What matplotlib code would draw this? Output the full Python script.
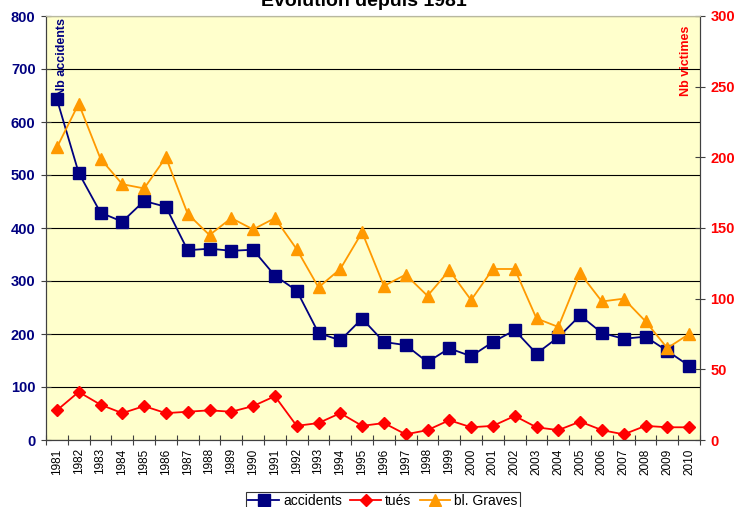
import matplotlib
matplotlib.use('Agg')
import matplotlib.pyplot as plt

plt.rcParams['font.family'] = ['Liberation Sans', 'DejaVu Sans']

annees = [str(a) for a in range(1981, 2011)]
accidents = [643, 504, 429, 412, 451, 440, 358, 361, 357, 359,
             310, 282, 202, 188, 229, 185, 179, 147, 173, 158,
             185, 207, 163, 194, 235, 202, 191, 195, 168, 140]
tues = [21, 34, 25, 19, 24, 19, 20, 21, 20, 24,
        31, 10, 12, 19, 10, 12, 4, 7, 14, 9,
        10, 17, 9, 7, 13, 7, 4, 10, 9, 9]
graves = [207, 238, 199, 181, 178, 200, 160, 145, 157, 149,
          157, 135, 108, 121, 147, 109, 117, 102, 120, 99,
          121, 121, 86, 80, 118, 98, 100, 84, 65, 75]

navy = '#000080'
rouge = '#FF0000'
orange = '#FF9900'

fig = plt.figure(figsize=(7.36, 5.07), dpi=100)
ax = fig.add_axes([46/736, 1-440/507, (700-46)/736, (440-16)/507])
ax.set_facecolor('#FFFFCC')
x = list(range(len(annees)))

l1, = ax.plot(x, accidents, color=navy, marker='s', markersize=8, lw=1.3,
              label='accidents', zorder=3)
ax.set_ylim(0, 800)
ax.set_xlim(-0.5, len(annees)-0.5)
ax.set_yticks(range(0, 801, 100))
ax.yaxis.grid(True, color='black', lw=0.8)
ax.set_axisbelow(True)
ax.set_xticks([i - 0.5 for i in range(len(annees)+1)], minor=False)
ax.set_xticklabels([])
ax.set_xticks(x, minor=True)
ax.set_xticklabels(annees, minor=True, rotation=90, fontsize=8.5)
ax.tick_params(axis='x', which='major', direction='inout', length=7, color='#404040')
ax.tick_params(axis='x', which='minor', length=0, pad=6)
ax.tick_params(axis='y', direction='inout', length=7, color='#404040',
               labelcolor=navy, labelsize=10.5, pad=4)
for t in ax.get_yticklabels():
    t.set_fontweight('bold')

ax2 = ax.twinx()
ax2.patch.set_visible(False)
l2, = ax2.plot(x, tues, color=rouge, marker='D', markersize=6, lw=1.3, label='tués')
l3, = ax2.plot(x, graves, color=orange, marker='^', markersize=8, lw=1.3,
               label='bl. Graves')
ax2.set_ylim(0, 300)
ax2.set_yticks(range(0, 301, 50))
ax2.tick_params(axis='y', direction='inout', length=7, color='#404040',
                labelcolor=rouge, labelsize=10.5, pad=4)
for t in ax2.get_yticklabels():
    t.set_fontweight('bold')

for a in (ax, ax2):
    a.spines['top'].set_color('#b8b8a0')
    a.spines['left'].set_color('#404040')
    a.spines['bottom'].set_color('#404040')
    a.spines['right'].set_color('#404040')

ax.text(0.25, 797, 'Nb accidents', rotation=90, ha='center', va='top',
        color=navy, fontsize=9, fontweight='bold')
ax2.text(28.85, 293, 'Nb victimes', rotation=90, ha='center', va='top',
         color=rouge, fontsize=9, fontweight='bold')

fig.text(363.5/736, 1-6/507, 'Evolution depuis 1981', ha='center', va='baseline',
         fontsize=14, fontweight='bold')

leg = fig.legend(handles=[l1, l2, l3], loc='lower center',
                 bbox_to_anchor=(383/736, -0.008), ncol=3, fontsize=10,
                 frameon=True, fancybox=False, edgecolor='black',
                 handlelength=2.2, handletextpad=0.3, columnspacing=0.6,
                 borderpad=0.2, borderaxespad=0)
leg.get_frame().set_linewidth(0.8)

fig.savefig('out.png', dpi=100)
